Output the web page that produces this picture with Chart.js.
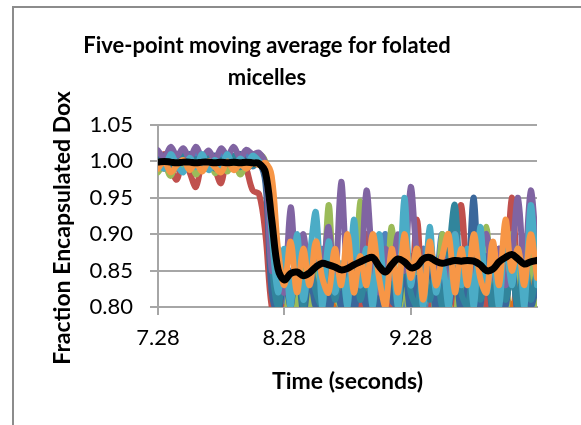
<!DOCTYPE html>
<html>
<head>
<meta charset="utf-8">
<title>Five-point moving average for folated micelles</title>
<script src="https://cdn.jsdelivr.net/npm/chart.js@4/dist/chart.umd.min.js"></script>
<style>
  html, body { margin: 0; padding: 0; background: #fff; overflow: hidden; }
  #wrap { width: 581px; height: 425px; }
</style>
</head>
<body>
<div id="wrap"><canvas id="chart" width="581" height="425"></canvas></div>
<script>
// ========== Data ==========
const times = [
  7.28, 7.33, 7.38, 7.43, 7.48, 7.53, 7.58, 7.63, 7.68, 7.73,
  7.78, 7.83, 7.88, 7.93, 7.98, 8.03, 8.08, 8.13, 8.18, 8.23,
  8.28, 8.33, 8.38, 8.43, 8.48, 8.53, 8.58, 8.63, 8.68, 8.73,
  8.78, 8.83, 8.88, 8.93, 8.98, 9.03, 9.08, 9.13, 9.18, 9.23,
  9.28, 9.33, 9.38, 9.43, 9.48, 9.53, 9.58, 9.63, 9.68, 9.73,
  9.78, 9.83, 9.88, 9.93, 9.98, 10.03, 10.08, 10.13, 10.18, 10.23,
  10.28
];
const xTicks = [7.28, 8.28, 9.28];

const runBlue = [
  1.005, 0.995, 1.010, 0.990, 1.008, 0.996, 1.012, 0.992, 1.006, 0.994,
  1.010, 0.991, 1.007, 0.995, 1.011, 0.993, 1.004, 0.990, 0.880, 0.800,
  0.790, 0.850, 0.800, 0.870, 0.790, 0.820, 0.880, 0.800, 0.860, 0.785,
  0.840, 0.890, 0.810, 0.860, 0.790, 0.830, 0.900, 0.800, 0.850, 0.780,
  0.870, 0.810, 0.880, 0.790, 0.830, 0.900, 0.800, 0.860, 0.780, 0.850,
  0.890, 0.800, 0.840, 0.790, 0.880, 0.810, 0.860, 0.790, 0.870, 0.800,
  0.840
];
const runRed = [
  0.995, 1.010, 0.990, 0.975, 1.005, 0.985, 0.965, 1.000, 1.012, 0.990,
  0.970, 1.008, 0.995, 1.010, 0.990, 0.960, 0.955, 0.900, 0.800, 0.780,
  0.800, 0.790, 0.860, 0.800, 0.780, 0.850, 0.800, 0.790, 0.870, 0.810,
  0.780, 0.840, 0.800, 0.900, 0.820, 0.780, 0.860, 0.800, 0.790, 0.880,
  0.810, 0.920, 0.800, 0.790, 0.850, 0.800, 0.780, 0.860, 0.940, 0.830,
  0.790, 0.870, 0.800, 0.880, 0.790, 0.820, 0.950, 0.840, 0.790, 0.860,
  0.800
];
const runGreen = [
  0.985, 0.995, 0.980, 1.000, 0.988, 1.005, 0.982, 0.998, 1.012, 0.984,
  1.000, 0.986, 1.002, 0.982, 0.996, 1.005, 1.010, 1.000, 0.960, 0.800,
  0.780, 0.830, 0.790, 0.880, 0.800, 0.850, 0.790, 0.940, 0.820, 0.800,
  0.870, 0.790, 0.945, 0.810, 0.790, 0.860, 0.800, 0.910, 0.790, 0.830,
  0.780, 0.880, 0.800, 0.850, 0.790, 0.900, 0.810, 0.780, 0.860, 0.790,
  0.830, 0.800, 0.910, 0.790, 0.850, 0.780, 0.900, 0.810, 0.790, 0.870,
  0.800
];
const runPurple = [
  1.015, 1.005, 1.020, 1.008, 1.018, 1.004, 1.020, 1.006, 1.015, 1.002,
  1.018, 1.008, 1.020, 1.005, 1.016, 1.010, 1.012, 0.995, 0.850, 0.880,
  0.820, 0.937, 0.840, 0.900, 0.830, 0.880, 0.850, 0.910, 0.830, 0.972,
  0.850, 0.900, 0.830, 0.960, 0.860, 0.820, 0.880, 0.840, 0.900, 0.850,
  0.965, 0.870, 0.830, 0.890, 0.840, 0.870, 0.820, 0.900, 0.850, 0.880,
  0.830, 0.870, 0.900, 0.840, 0.880, 0.830, 0.870, 0.950, 0.850, 0.960,
  0.870
];
const runCyan = [
  1.000, 0.990, 1.010, 0.995, 0.985, 1.005, 0.992, 1.010, 0.988, 1.002,
  0.994, 1.010, 0.990, 1.004, 0.996, 1.008, 1.000, 0.990, 0.900, 0.820,
  0.880, 0.800, 0.900, 0.810, 0.870, 0.930, 0.800, 0.890, 0.820, 0.860,
  0.800, 0.920, 0.830, 0.880, 0.800, 0.900, 0.820, 0.870, 0.800, 0.950,
  0.830, 0.880, 0.800, 0.910, 0.820, 0.860, 0.800, 0.900, 0.830, 0.880,
  0.800, 0.910, 0.820, 0.870, 0.800, 0.900, 0.830, 0.880, 0.800, 0.940,
  0.830
];
const runOrange = [
  0.990, 1.000, 0.985, 0.995, 1.002, 0.988, 0.998, 0.986, 1.000, 0.992,
  0.985, 1.000, 0.988, 0.996, 0.990, 0.998, 0.995, 0.998, 0.980, 0.880,
  0.830, 0.890, 0.820, 0.880, 0.830, 0.890, 0.840, 0.820, 0.880, 0.830,
  0.900, 0.820, 0.870, 0.830, 0.900, 0.840, 0.800, 0.880, 0.820, 0.900,
  0.840, 0.880, 0.810, 0.890, 0.830, 0.870, 0.900, 0.820, 0.880, 0.830,
  0.900, 0.840, 0.820, 0.890, 0.830, 0.920, 0.850, 0.880, 0.830, 0.900,
  0.840
];
const runNavy = [
  1.000, 1.008, 0.995, 1.005, 0.998, 1.010, 0.996, 1.004, 0.999, 1.008,
  0.997, 1.005, 1.000, 1.010, 0.995, 1.003, 1.000, 0.970, 0.820, 0.790,
  0.840, 0.800, 0.870, 0.790, 0.840, 0.800, 0.860, 0.790, 0.830, 0.800,
  0.880, 0.790, 0.850, 0.800, 0.840, 0.790, 0.870, 0.810, 0.800, 0.860,
  0.790, 0.840, 0.800, 0.880, 0.790, 0.850, 0.800, 0.860, 0.790, 0.830,
  0.950, 0.800, 0.870, 0.790, 0.840, 0.800, 0.860, 0.790, 0.850, 0.800,
  0.830
];
const runTeal = [
  0.995, 1.005, 0.990, 1.000, 1.008, 0.992, 1.003, 0.995, 1.006, 0.990,
  1.002, 0.996, 1.008, 0.992, 1.000, 0.994, 0.998, 0.990, 0.860, 0.800,
  0.850, 0.810, 0.880, 0.800, 0.860, 0.820, 0.800, 0.870, 0.810, 0.850,
  0.800, 0.890, 0.810, 0.840, 0.800, 0.870, 0.810, 0.850, 0.800, 0.880,
  0.820, 0.800, 0.860, 0.810, 0.850, 0.800, 0.870, 0.940, 0.820, 0.800,
  0.860, 0.810, 0.850, 0.800, 0.880, 0.810, 0.840, 0.800, 0.870, 0.810,
  0.850
];
const runRust = [
  0.998, 0.990, 1.004, 0.994, 1.000, 0.988, 1.006, 0.992, 0.998, 1.004,
  0.990, 1.000, 0.994, 1.006, 0.990, 0.998, 1.002, 0.995, 0.840, 0.790,
  0.820, 0.790, 0.850, 0.800, 0.780, 0.840, 0.790, 0.830, 0.790, 0.820,
  0.780, 0.850, 0.790, 0.830, 0.780, 0.820, 0.790, 0.860, 0.790, 0.820,
  0.780, 0.840, 0.790, 0.820, 0.790, 0.850, 0.780, 0.820, 0.790, 0.840,
  0.780, 0.830, 0.790, 0.850, 0.780, 0.820, 0.790, 0.840, 0.780, 0.830,
  0.790
];
const movingAvg = [
  0.999, 1.000, 0.999, 0.998, 0.999, 0.999, 0.998, 0.999, 0.999, 0.998,
  0.999, 0.998, 0.999, 0.998, 0.999, 0.998, 0.997, 0.985, 0.920, 0.852,
  0.837, 0.846, 0.848, 0.843, 0.847, 0.855, 0.860, 0.858, 0.855, 0.851,
  0.853, 0.858, 0.862, 0.866, 0.868, 0.856, 0.848, 0.858, 0.866, 0.862,
  0.854, 0.856, 0.866, 0.868, 0.863, 0.860, 0.862, 0.864, 0.863, 0.864,
  0.863, 0.858, 0.850, 0.852, 0.862, 0.868, 0.872, 0.866, 0.859, 0.862,
  0.864
];

// series drawn in this stacking order (first = top)
const runs = [
  { values: runOrange, color: '#F79646' },
  { values: runCyan,   color: '#4BACC6' },
  { values: runPurple, color: '#8064A2' },
  { values: runTeal,   color: '#31859C' },
  { values: runNavy,   color: '#3A679B' },
  { values: runGreen,  color: '#9BBB59' },
  { values: runRed,    color: '#C0504D' },
  { values: runBlue,   color: '#4F81BD' },
  { values: runRust,   color: '#D9701F' }
];

const FONT = 'Lato';
const GRID = '#a6a6a6';

function toPoints(values) {
  return values.map((v, i) => ({ x: times[i], y: v }));
}

// ========== Frame + titles (Excel-style placement) ==========
const excelFrame = {
  id: 'excelFrame',
  beforeDraw(chart) {
    const ctx = chart.ctx;
    ctx.save();
    ctx.strokeStyle = '#8c8c8c';
    ctx.lineWidth = 2;
    ctx.beginPath();
    ctx.moveTo(13, chart.height);
    ctx.lineTo(13, 7);
    ctx.lineTo(chart.width, 7);
    ctx.stroke();
    ctx.restore();
  }
};

const excelTitles = {
  id: 'excelTitles',
  afterDraw(chart) {
    const ctx = chart.ctx;
    ctx.save();
    ctx.fillStyle = '#000';
    ctx.font = 'bold 22px ' + FONT;
    ctx.textAlign = 'center';
    ctx.textBaseline = 'alphabetic';
    ctx.fillText('Five-point moving average for folated', 267, 53);
    ctx.fillText('micelles', 267, 85);
    ctx.font = 'bold 23px ' + FONT;
    ctx.translate(70, 228);
    ctx.rotate(-Math.PI / 2);
    ctx.fillText('Fraction Encapsulated Dox', 0, 0);
    ctx.restore();
  }
};

// ========== Chart ==========
const datasets = [{
  label: 'Five-point moving average',
  data: toPoints(movingAvg),
  borderColor: '#000',
  borderWidth: 7,
  order: 0
}].concat(runs.map((r, i) => ({
  label: 'Run ' + (i + 1),
  data: toPoints(r.values),
  borderColor: r.color,
  borderWidth: 6,
  order: i + 1
})));

new Chart(document.getElementById('chart'), {
  type: 'line',
  data: { datasets: datasets },
  options: {
    responsive: false,
    animation: false,
    layout: { padding: { top: 125, right: 44, bottom: 0, left: 0 } },
    elements: {
      point: { radius: 0 },
      line: { tension: 0.35, borderCapStyle: 'round', borderJoinStyle: 'round' }
    },
    datasets: { line: { clip: 0 } },
    plugins: {
      legend: { display: false },
      tooltip: { enabled: false }
    },
    scales: {
      x: {
        type: 'linear',
        min: 7.28,
        max: 10.28,
        afterBuildTicks(axis) {
          axis.ticks = xTicks.map(v => ({ value: v }));
        },
        afterFit(axis) { axis.height = 118; },
        grid: { drawOnChartArea: false, color: GRID, lineWidth: 2, tickLength: 8 },
        border: { color: GRID, width: 2 },
        ticks: {
          color: '#000',
          font: { family: FONT, size: 22 },
          padding: 10,
          maxRotation: 0,
          callback: v => Number(v).toFixed(2)
        },
        title: {
          display: true,
          text: 'Time (seconds)',
          color: '#000',
          font: { family: FONT, size: 23, weight: 'bold' },
          padding: { top: 0, bottom: 30 }
        }
      },
      y: {
        min: 0.8,
        max: 1.05,
        afterFit(axis) { axis.width = 158; },
        grid: { color: GRID, lineWidth: 2, tickLength: 8 },
        border: { color: GRID, width: 2 },
        ticks: {
          stepSize: 0.05,
          color: '#000',
          font: { family: FONT, size: 22 },
          padding: 17,
          callback: v => Number(v).toFixed(2)
        }
      }
    }
  },
  plugins: [excelFrame, excelTitles]
});
</script>
</body>
</html>
